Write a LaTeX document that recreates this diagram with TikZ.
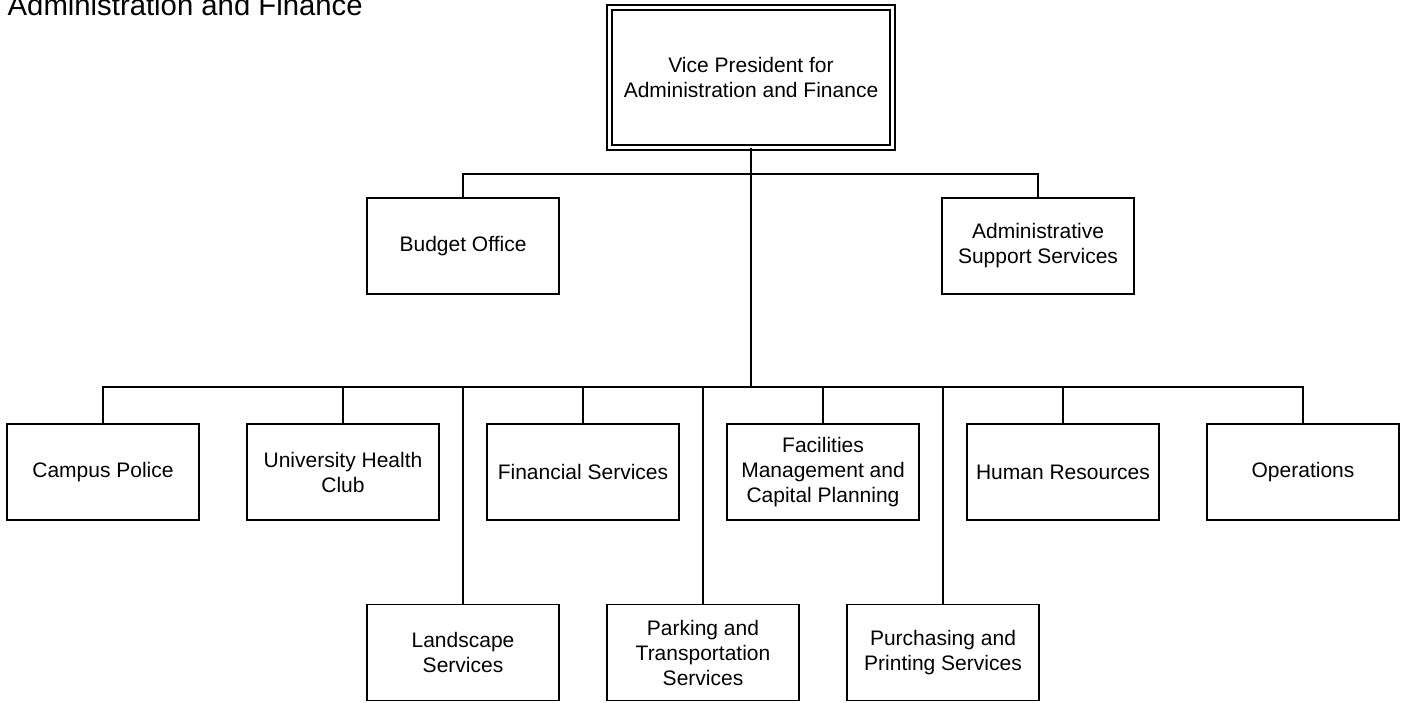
\documentclass[tikz,border=0pt]{standalone}
\usepackage{fontspec}
\setmainfont{Liberation Sans}

\begin{document}
\begin{tikzpicture}[x=0.5pt, y=-0.5pt, line width=0.7pt]
      \tikzstyle{unit} = [draw, minimum width=96pt, minimum height=48pt, inner sep=2pt, align=center, font=\fontsize{10.5}{12.5}\selectfont]
      \tikzstyle{head} = [unit, line width=0.9pt, double, double distance=1.6pt, minimum width=141.75pt, minimum height=70pt]
      \useasboundingbox (0,0) rectangle (1401,702);
      \node[anchor=base west, inner sep=0pt, font=\fontsize{14.65}{17}\selectfont] (title) at (7,15.5) {Administration and Finance};
      % top of the chart
      \node[head] (vp) at (751,77.5) {Vice President for\\Administration and Finance};
      \node[unit] (budget) at (463,246) {Budget Office};
      \node[unit] (admin) at (1038,246) {Administrative\\Support Services};
      % first row
      \node[unit] (police) at (103,472) {Campus Police};
      \node[unit] (club) at (343,472) {University Health\\Club};
      \node[unit] (finserv) at (583,472) {Financial Services};
      \node[unit] (facil) at (823,472) {Facilities\\Management and\\Capital Planning};
      \node[unit] (hr) at (1063,472) {Human Resources};
      \node[unit] (ops) at (1303,472) {Operations};
      % second row
      \node[unit] (land) at (463,652.5) {Landscape\\Services};
      \node[unit] (park) at (703,652.5) {Parking and\\Transportation\\Services};
      \node[unit] (purch) at (943,652.5) {Purchasing and\\Printing Services};
      \coordinate (upbus) at (751,174);
      \coordinate (lowbus) at (751,387);
      \draw (vp.south) -- (lowbus);
      \draw (upbus) -| (budget);
      \draw (upbus) -| (admin);
      \draw (lowbus) -| (police);
      \draw (lowbus) -| (club);
      \draw (lowbus) -| (land);
      \draw (lowbus) -| (finserv);
      \draw (lowbus) -| (park);
      \draw (lowbus) -| (facil);
      \draw (lowbus) -| (purch);
      \draw (lowbus) -| (hr);
      \draw (lowbus) -| (ops);
\end{tikzpicture}
\end{document}
